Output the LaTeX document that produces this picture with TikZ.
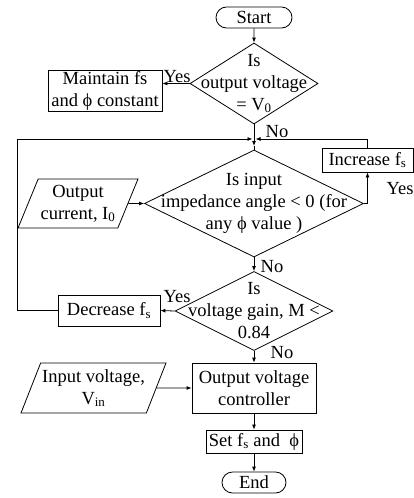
\documentclass[tikz,border=0pt]{standalone}
\usepackage{fontspec}
\setmainfont{Liberation Serif}
\usetikzlibrary{shapes.geometric, shapes.misc, arrows.meta}

\begin{document}
\begin{tikzpicture}[x=1pt, y=-1pt, line width=0.8pt,
  font=\fontsize{18.5}{22}\selectfont,
  box/.style={draw, rectangle, inner sep=0pt, align=center},
  term/.style={draw, rounded rectangle, inner sep=0pt, minimum height=21pt},
  dec/.style={draw, diamond, inner sep=0pt},
  io/.style={draw, trapezium, trapezium left angle=63, trapezium right angle=117,
    trapezium stretches=true, inner sep=0pt, align=center},
  arr/.style={-{Latex[length=5pt,width=4pt]}}]
  \useasboundingbox (0,0) rectangle (414,498);

  % main column
  \node[term, minimum width=76pt] (start) at (254,17.5) {Start};
  \node[dec, minimum width=128pt, minimum height=81pt,
    label={[align=center]center:{Is\\output voltage\\= V\textsubscript{0}}}] (q1) at (254,83.5) {};
  \node[dec, minimum width=219pt, minimum height=107pt,
    label={[align=center]center:{Is input\\impedance angle < 0 (for\\any ϕ value )}}] (q2) at (254,203.5) {};
  \node[dec, minimum width=158pt, minimum height=79pt,
    label={[align=center]center:{Is\\voltage gain, M <\\0.84}}] (q3) at (254,311) {};
  \node[box, minimum width=124pt, minimum height=50pt] (ctrl) at (254,388) {Output voltage\\controller};
  \node[box, minimum width=96pt, minimum height=23pt] (set) at (254,441.5) {Set f\textsubscript{s} and \ ϕ};
  \node[term, minimum width=64pt] (end) at (254,482.5) {End};

  % side boxes
  \node[box, minimum width=114pt, minimum height=41pt] (maint) at (105,90.5) {Maintain fs\\and ϕ constant};
  \node[box, minimum width=91pt, minimum height=24pt] (inc) at (367.5,160) {Increase f\textsubscript{s}};
  \node[box, minimum width=102pt, minimum height=31pt] (decr) at (109,310.5) {Decrease f\textsubscript{s}};
  \node[io, minimum width=120pt, minimum height=49pt] (iout) at (78,203.5) {Output\\current, I\textsubscript{0}};
  \node[io, minimum width=145pt, minimum height=50pt] (vin) at (93.5,388) {Input voltage,\\V\textsubscript{in}};

  % branch labels
  \node (y1) at (177,77) {Yes};
  \node (n1) at (277,132) {No};
  \node (y2) at (400,189) {Yes};
  \node (n2) at (272,267) {No};
  \node (y3) at (177,297) {Yes};
  \node (n3) at (282,353) {No};

  % loop back points
  \coordinate (mrg) at (254,139);
  \coordinate (lft) at (17,139);
  \coordinate (mid) at (254,146);

  \draw[arr] (start) -- (q1);
  \draw[arr] (q1.west) -- (maint.east |- q1.west);
  \draw[arr] (q1.south) -- (mid);
  \draw (mid) -- (q2.north);
  \draw[arr, shorten >=1.5pt] (inc.north) |- (mrg);
  \draw[arr, shorten >=1.5pt] (decr.west) -| (lft) -- (mrg);
  \draw[arr] (q2.east) -| (inc.south);
  \draw[arr] (iout.east) -- (q2.west);
  \draw[arr] (q2.south) -- (q3.north);
  \draw[arr] (q3.west) -- (decr.east);
  \draw[arr] (q3.south) -- (ctrl.north);
  \draw[arr] (vin.east) -- (ctrl.west);
  \draw[arr] (ctrl) -- (set);
  \draw[arr] (set) -- (end);
\end{tikzpicture}
\end{document}
